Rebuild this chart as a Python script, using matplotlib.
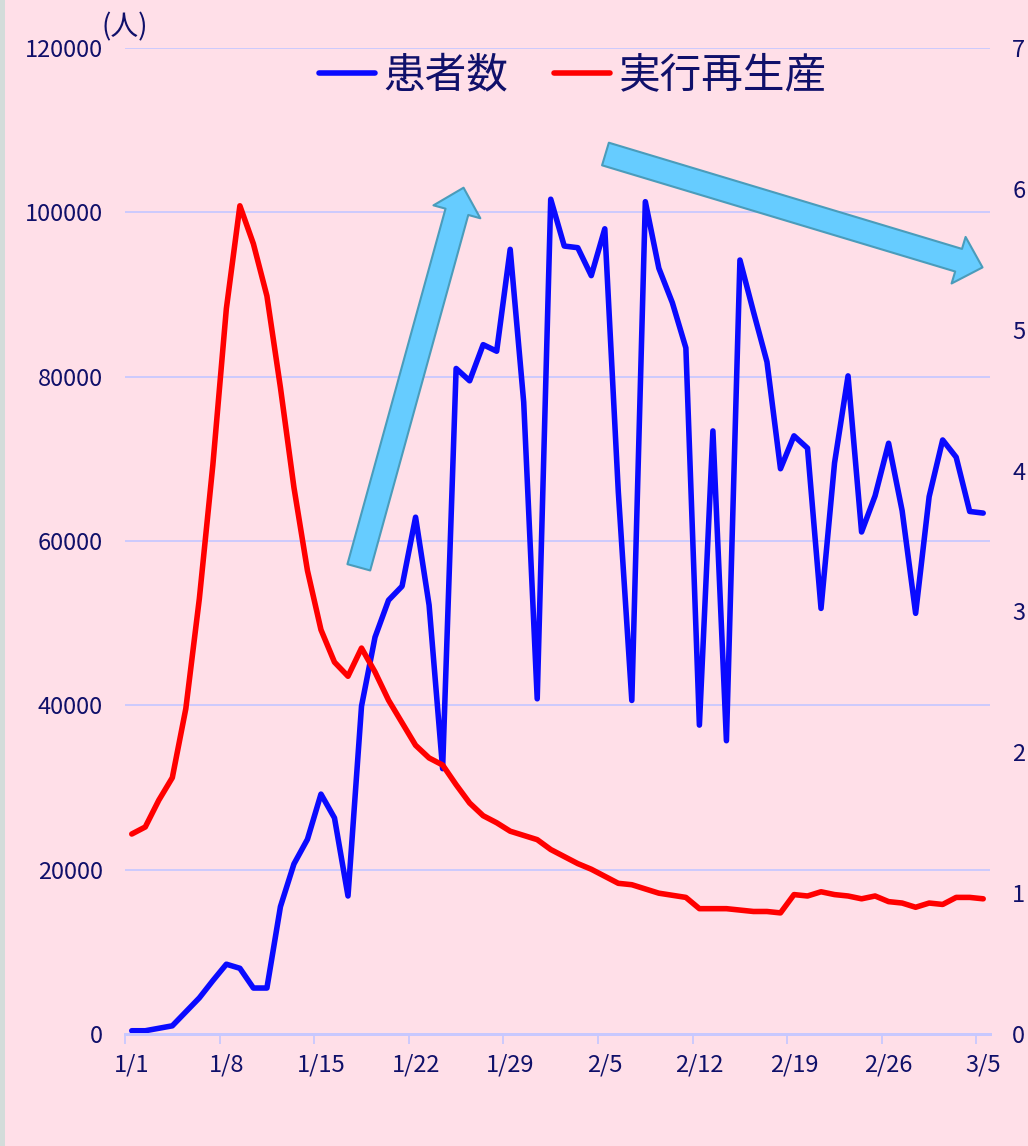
import numpy as np
import matplotlib
matplotlib.use('Agg')
import matplotlib.pyplot as plt
from matplotlib.patches import Rectangle

plt.rcParams['font.family'] = ['Noto Sans CJK JP', 'DejaVu Sans']

# 1/1 .. 3/5 (64 days)
days = np.arange(64)
tick_days = [0, 7, 14, 21, 28, 35, 42, 49, 56, 63]
tick_labels = ['1/1', '1/8', '1/15', '1/22', '1/29', '2/5', '2/12', '2/19', '2/26', '3/5']

patients = [400, 400, 700, 1000, 2700, 4400, 6500, 8500, 8000, 5600,
            5600, 15500, 20700, 23700, 29200, 26300, 16800, 39900, 48300, 52800,
            54500, 62900, 52200, 32300, 81000, 79500, 83900, 83100, 95500, 76900,
            40800, 101600, 95900, 95700, 92300, 98000, 66000, 40600, 101300, 93200,
            89000, 83500, 37600, 73400, 35700, 94200, 87900, 81800, 68800, 72800,
            71300, 51800, 69500, 80100, 61100, 65500, 71900, 63700, 51200, 65400,
            72300, 70200, 63600, 63400]

rt = [1.42, 1.47, 1.66, 1.82, 2.31, 3.09, 4.04, 5.15, 5.88, 5.61,
      5.24, 4.59, 3.88, 3.29, 2.87, 2.64, 2.54, 2.74, 2.57, 2.37,
      2.21, 2.05, 1.96, 1.91, 1.77, 1.64, 1.55, 1.50, 1.44, 1.41,
      1.38, 1.31, 1.26, 1.21, 1.17, 1.12, 1.07, 1.06, 1.03, 1.00,
      0.985, 0.97, 0.89, 0.89, 0.89, 0.88, 0.87, 0.87, 0.86, 0.99,
      0.98, 1.01, 0.99, 0.98, 0.96, 0.98, 0.94, 0.93, 0.90, 0.93,
      0.92, 0.97, 0.97, 0.96]

# trend arrows (day, patients): tail -> head
arrow_up = ((16.8, 56800), (24.55, 103000))
arrow_down = ((35.05, 107100), (62.95, 93300))

bg = '#FFDFE8'
navy = '#10106A'
grid_c = '#C8C8FF'

fig = plt.figure(figsize=(10.28, 11.46), dpi=100, facecolor=bg)
fig.patches.append(Rectangle((0, 0), 5 / 1028, 1, transform=fig.transFigure,
                             facecolor='#D3DCDA', edgecolor='none'))
ax1 = fig.add_axes([0.1216, 0.0977, 0.8414, 0.8604])
ax1.set_facecolor(bg)
ax2 = ax1.twinx()

l1, = ax1.plot(days, patients, color='#0A0AFF', lw=4,
               solid_joinstyle='round', solid_capstyle='round', label='患者数')
l2, = ax2.plot(days, rt, color='#FF0000', lw=4,
               solid_joinstyle='round', solid_capstyle='round', label='実行再生産')

ax1.set_xlim(-0.5, 63.5)
ax1.set_ylim(0, 120000)
ax2.set_ylim(0, 7)
ax1.set_yticks(np.arange(0, 120001, 20000))
ax2.set_yticks(np.arange(0, 8, 1))
ax1.grid(axis='y', color=grid_c, lw=1.3)
ax1.set_axisbelow(True)

ax1.set_xticks(tick_days)
ax1.set_xticklabels(tick_labels)
ax1.set_xticks(np.array(tick_days) - 0.5, minor=True)
ax1.tick_params(axis='x', which='major', length=0, pad=14, labelsize=17, labelcolor=navy)
ax1.tick_params(axis='x', which='minor', length=7, width=1.3, color=grid_c)
ax1.tick_params(axis='y', length=0, pad=16, labelsize=17, labelcolor=navy)
ax2.tick_params(axis='y', length=0, pad=16, labelsize=17, labelcolor=navy)

for ax in (ax1, ax2):
    for s in ('top', 'left', 'right'):
        ax.spines[s].set_visible(False)
    ax.spines['bottom'].set_color(grid_c)
    ax.spines['bottom'].set_linewidth(2)

for tail, head in (arrow_up, arrow_down):
    ax2.annotate('', xy=head, xytext=tail, xycoords=ax1.transData, textcoords=ax1.transData,
                 arrowprops=dict(arrowstyle='simple,head_length=18,head_width=35,tail_width=17',
                                 mutation_scale=1, shrinkA=0, shrinkB=0,
                                 fc='#66CCFF', ec='#4A9CBB', lw=1.5))

fig.text(0.099, 0.976, '(人)', ha='left', va='center', fontsize=20, color=navy)

fig.legend(handles=[l1, l2], loc='center', bbox_to_anchor=(0.557, 0.934), ncol=2,
           frameon=False, fontsize=30, labelcolor=navy, handlelength=1.35,
           handletextpad=0.2, columnspacing=1.1)

fig.savefig('out.png', dpi=100, facecolor=bg)
